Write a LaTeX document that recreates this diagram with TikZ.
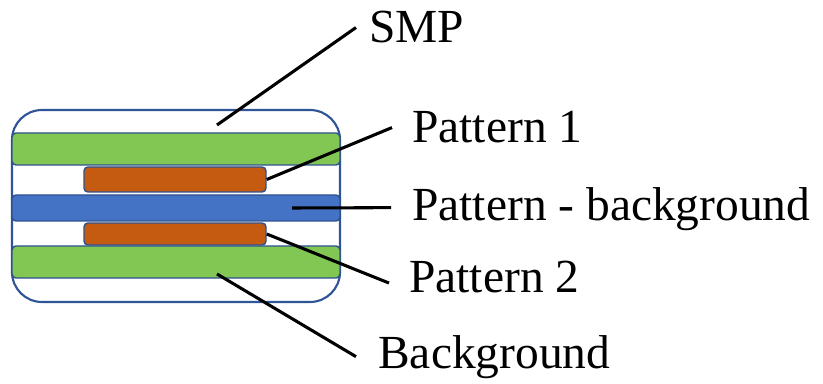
\documentclass[tikz,border=0pt]{standalone}
\usepackage{fontspec}
\setmainfont{Liberation Serif}
\definecolor{layergreen}{HTML}{82C753}
\definecolor{layerorange}{HTML}{C55A11}
\definecolor{layerblue}{HTML}{4472C4}
\definecolor{barline}{HTML}{2F528F}
\definecolor{smpline}{HTML}{2F5597}

\begin{document}
\begin{tikzpicture}
    [x=0.75pt, y=-0.75pt,
      bar/.style={draw=barline, line width=1.1pt, rounded corners=3pt,
        minimum width=246pt, inner sep=0pt},
      pat/.style={bar, minimum width=136.5pt, fill=layerorange},
      lbl/.style={anchor=base west, inner sep=0pt, font=\fontsize{35.6}{42}\selectfont},
      lead/.style={line width=2.3pt}]
    \useasboundingbox (0,0) rectangle (823,384);
    % outer SMP body
    \node[draw=smpline, fill=white, line width=1.6pt, rounded corners=22.5pt,
      minimum width=246pt, minimum height=144pt, inner sep=0pt] (smp) at (176,206) {};
    % layers
    \node[bar, fill=layergreen, minimum height=24pt] (gtop) at (176,149) {};
    \node[pat, minimum height=18.75pt] (ptop) at (175,179.5) {};
    \node[bar, fill=layerblue, minimum height=19.5pt] (blue) at (176,208) {};
    \node[pat, minimum height=16.5pt] (pbot) at (175,234) {};
    \node[bar, fill=layergreen, minimum height=24pt] (gbot) at (176,262) {};
    % labels
    \node[lbl] (lsmp) at (369,43) {SMP};
    \node[lbl] (lp1) at (412,143) {Pattern 1};
    \node[lbl] (lpb) at (412,221) {Pattern - background};
    \node[lbl] (lp2) at (409,292) {Pattern 2};
    \node[lbl] (lbg) at (378,368) {Background};
    \coordinate (csmp) at (217,125);
    \coordinate (cpb) at (292,208);
    \coordinate (cbg) at (217,274);
    % leaders
    \draw[lead] (csmp) -- ([xshift=-9.75pt]lsmp.west);
    \draw[lead] (ptop.east) -- ([xshift=-15pt]lp1.west);
    \draw[lead] (cpb) -- ([xshift=-15.75pt,yshift=1.5pt]lpb.west);
    \draw[lead] (pbot.east) -- ([xshift=-15pt,yshift=-4.9pt]lp2.west);
    \draw[lead] (cbg) -- ([xshift=-16.5pt]lbg.west);
  \end{tikzpicture}
\end{document}
